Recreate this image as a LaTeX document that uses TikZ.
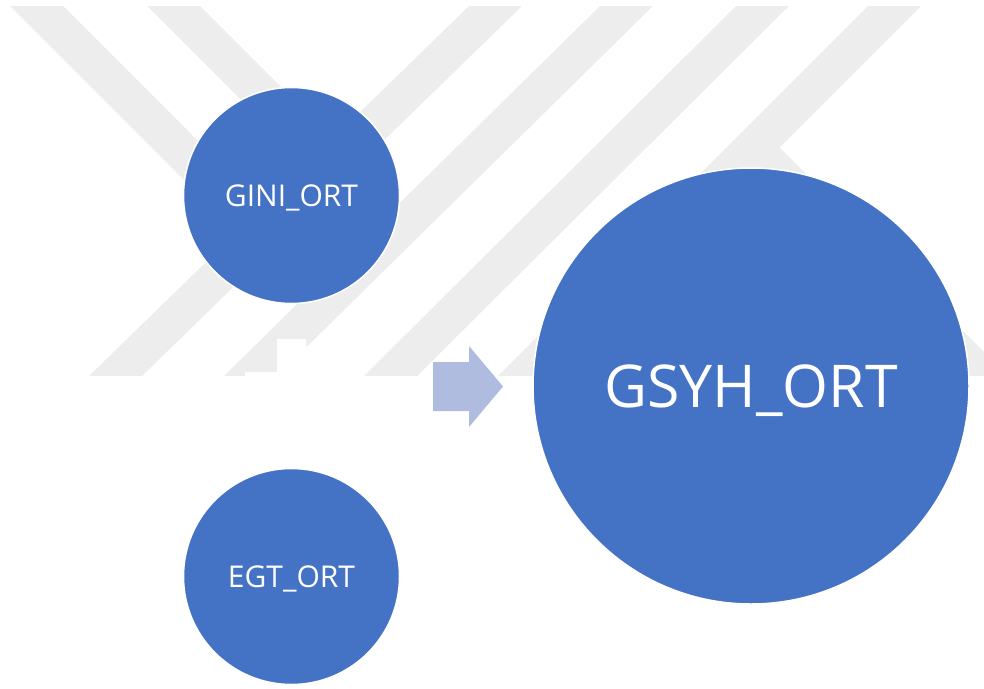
\documentclass[tikz,border=0pt]{standalone}
\usepackage{fontspec}
\setmainfont{Open Sans}
\usepackage{xcolor}
\usepackage{tikz}
\usetikzlibrary{positioning}
\definecolor{ortblue}{RGB}{68,114,196}
\definecolor{arrowblue}{RGB}{175,188,223}
\definecolor{stripegray}{RGB}{237,237,237}
\tikzstyle{ortcircle} = [circle, fill=ortblue, draw=white, line width=1.5pt, inner sep=0pt, outer sep=0pt, text=white, text depth=0pt]
\tikzstyle{smallort} = [ortcircle, minimum size=216pt, text height=21.4pt, font=\fontsize{30}{36}\selectfont]
\tikzstyle{bigort} = [ortcircle, minimum size=436pt, text height=42.1pt, font=\fontsize{59}{70}\selectfont]
\tikzstyle{stripe} = [fill=stripegray]
\tikzstyle{plusmark} = [fill=white]
\tikzstyle{blockarrow} = [fill=arrowblue]

\begin{document}
\begin{tikzpicture}[x=1pt, y=-1pt]
		\useasboundingbox (0,0) rectangle (984,688);
		\fill[stripe] (469,6) -- (522,6) -- (142,376) -- (89,376) -- cycle;
		\fill[stripe] (600,6) -- (653,6) -- (277,376) -- (224,376) -- cycle;
		\fill[stripe] (736,6) -- (789,6) -- (417,376) -- (364,376) -- cycle;
		\fill[stripe] (868,6) -- (921,6) -- (551,376) -- (498,376) -- cycle;
		\fill[stripe] (10,6) -- (63,6) -- (276.4,219.4) -- (249.5,245.5) -- cycle;
		\fill[stripe] (147,6) -- (200,6) -- (411.6,217.6) -- (384.8,243.8) -- cycle;
		\fill[stripe] (955,376) -- (1008,376) -- (766.25,134.25) -- (739.75,160.75) -- cycle;
		\fill[plusmark] (277,339) -- (306,339) -- (306,372) -- (338,372) -- (338,401) -- (306,401) -- (306,434) -- (277,434) -- (277,401) -- (245,401) -- (245,372) -- (277,372) -- cycle;
		\fill[blockarrow] (433,362) -- (469,362) -- (469,346) -- (503,386.5) -- (469,427) -- (469,411) -- (433,411) -- cycle;
		\node (gini) [smallort] at (291.5,195.5) {GINI\_ORT};
		\node (egt) [smallort, below=165pt of gini] {EGT\_ORT};
		\node (gsyh) [bigort] at (751,386) {GSYH\_ORT};
	\end{tikzpicture}
\end{document}
